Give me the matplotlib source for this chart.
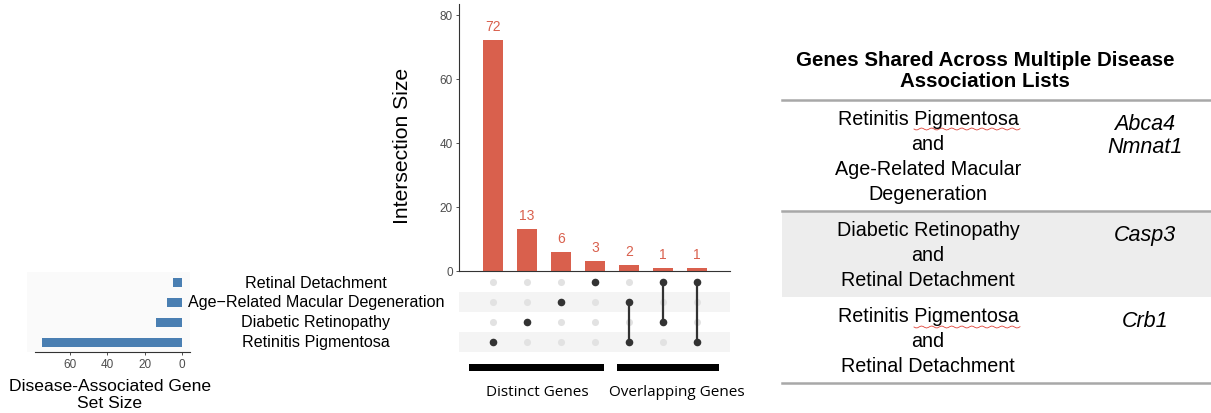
import numpy as np
import matplotlib.pyplot as plt
from matplotlib.lines import Line2D
from matplotlib.patches import Rectangle

# gene sets, bottom row first
set_names = ["Retinitis Pigmentosa", "Diabetic Retinopathy",
             "Age\u2212Related Macular Degeneration", "Retinal Detachment"]
set_sizes = [75, 14, 8, 5]

# intersections: size and member set indices
inter_sizes = [72, 13, 6, 3, 2, 1, 1]
inter_members = [[0], [1], [2], [3], [0, 2], [1, 3], [0, 3]]

group_labels = ["Distinct Genes", "Overlapping Genes"]

table_title = "Genes Shared Across Multiple Disease\nAssociation Lists"
table_pairs = ["Retinitis Pigmentosa\nand\nAge-Related Macular\nDegeneration",
               "Diabetic Retinopathy\nand\nRetinal Detachment",
               "Retinitis Pigmentosa\nand\nRetinal Detachment"]
table_genes = ["Abca4\nNmnat1", "Casp3", "Crb1"]

W, H = 1211, 414
plt.rcParams["font.family"] = ["Liberation Sans", "DejaVu Sans"]

BLUE = "#4A7FB2"
RED = "#D9604D"
DARK = "#333333"
LIGHT = "#E2E2E2"


def box(l, t, r, b):
    return [l / W, 1 - b / H, (r - l) / W, (b - t) / H]


fig = plt.figure(figsize=(W / 100, H / 100), dpi=100)

# intersection size bars
ax_bar = fig.add_axes(box(459, 5, 730, 272))
xs = np.arange(len(inter_sizes))
ax_bar.bar(xs, inter_sizes, width=0.6, color=RED)
for x, v in zip(xs, inter_sizes):
    ax_bar.text(x, v + 2.2, str(v), ha="center", va="bottom", color=RED, fontsize=10)
ax_bar.set_xlim(-1, 6.97)
ax_bar.set_ylim(0, 83.4)
ax_bar.set_yticks([0, 20, 40, 60, 80])
ax_bar.set_xticks([])
for s in ["top", "right"]:
    ax_bar.spines[s].set_visible(False)
for s in ["left", "bottom"]:
    ax_bar.spines[s].set_color("#333333")
    ax_bar.spines[s].set_linewidth(0.8)
ax_bar.tick_params(axis="y", labelsize=8.5, labelcolor="#4D4D4D", length=2.5, width=0.6,
                   color="#333333", pad=2)
fig.text(403 / W, 1 - 146 / H, "Intersection Size", rotation=90, ha="center", va="center",
         fontsize=15.2)

# membership matrix
ax_mat = fig.add_axes(box(459, 273, 730, 353))
ax_mat.set_xlim(-1, 6.97)
ax_mat.set_ylim(-0.5, 3.5)
for r in range(len(set_names)):
    if r % 2 == 0:
        ax_mat.axhspan(r - 0.5, r + 0.5, color="#F4F4F4", lw=0, zorder=0)
    ax_mat.scatter(xs, [r] * len(xs), s=26, color=LIGHT, zorder=2, linewidths=0)
for x, mem in zip(xs, inter_members):
    if len(mem) > 1:
        ax_mat.plot([x, x], [min(mem), max(mem)], color=DARK, lw=1.6, zorder=3)
    ax_mat.scatter([x] * len(mem), mem, s=30, color=DARK, zorder=4, linewidths=0)
ax_mat.axis("off")

# set labels
for r, name in enumerate(set_names):
    fig.text(316 / W, 1 - (343 - 20 * r) / H, name, ha="center", va="center", fontsize=11.6)

# set size bars
ax_set = fig.add_axes(box(27, 273, 190, 353))
ax_set.set_facecolor("#FAFAFA")
ax_set.barh(range(len(set_sizes)), set_sizes, height=0.45, color=BLUE)
ax_set.set_xlim(83.1, -4.3)
ax_set.set_ylim(-0.5, 3.5)
ax_set.set_xticks([60, 40, 20, 0])
ax_set.set_yticks([])
for s in ["top", "right", "left", "bottom"]:
    ax_set.spines[s].set_visible(False)
# axis line spans only part of the panel
ax_set.plot([78.8, -4.3], [-0.5, -0.5], color="#333333", lw=0.8, clip_on=False)
ax_set.tick_params(axis="x", labelsize=8.5, labelcolor="#4D4D4D", length=2.5, width=0.6,
                   color="#333333", pad=2)
fig.text(110 / W, 1 - 395 / H, "Disease-Associated Gene\nSet Size", ha="center",
         va="center", fontsize=12.6, linespacing=1.1)

# group brackets under the matrix
ax_grp = fig.add_axes(box(459, 355, 730, 414))
ax_grp.set_xlim(-1, 6.97)
ax_grp.set_ylim(414, 355)
for label, (x0, x1), tx in zip(group_labels, [(-0.7, 3.25), (3.65, 6.65)], [1.3, 5.4]):
    ax_grp.add_patch(Rectangle((x0, 364.5), x1 - x0, 7, color="black", lw=0))
    ax_grp.text(tx, 393, label, ha="center", va="center", fontsize=11,
                family=["Open Sans", "DejaVu Sans"])
ax_grp.axis("off")

# table of shared genes
fig.text(985 / W, 1 - 71 / H, table_title, ha="center", va="center", fontsize=14.8,
         fontweight="bold", linespacing=1.15)
row_edges = [101, 212, 298, 384]
fig.add_artist(Rectangle((782 / W, 1 - 298 / H), (W - 782) / W, 86 / H,
                         transform=fig.transFigure, color="#EDEDED", lw=0))
for y in [101, 212, 384]:
    fig.add_artist(Line2D([782 / W, 1], [1 - y / H] * 2, transform=fig.transFigure,
                          color="#A8A8A8", lw=1.8))
for i, (pair, genes) in enumerate(zip(table_pairs, table_genes)):
    top = row_edges[i] + 9
    fig.text(928 / W, 1 - top / H, pair, ha="center", va="top", fontsize=14.2,
             linespacing=1.4)
    fig.text(1145 / W, 1 - (top + 4) / H, genes, ha="center", va="top", fontsize=15.5,
             style="italic", linespacing=1.1)

# spell-check squiggles under "Pigmentosa"
for yb in [130, 328]:
    sx = np.linspace(914, 1020, 60)
    sy = yb + 1.0 * np.sin((sx - 914) / 1.6)
    fig.add_artist(Line2D(sx / W, 1 - sy / H, transform=fig.transFigure,
                          color="#E0443A", lw=0.6))

fig.savefig("out.png", dpi=100)
